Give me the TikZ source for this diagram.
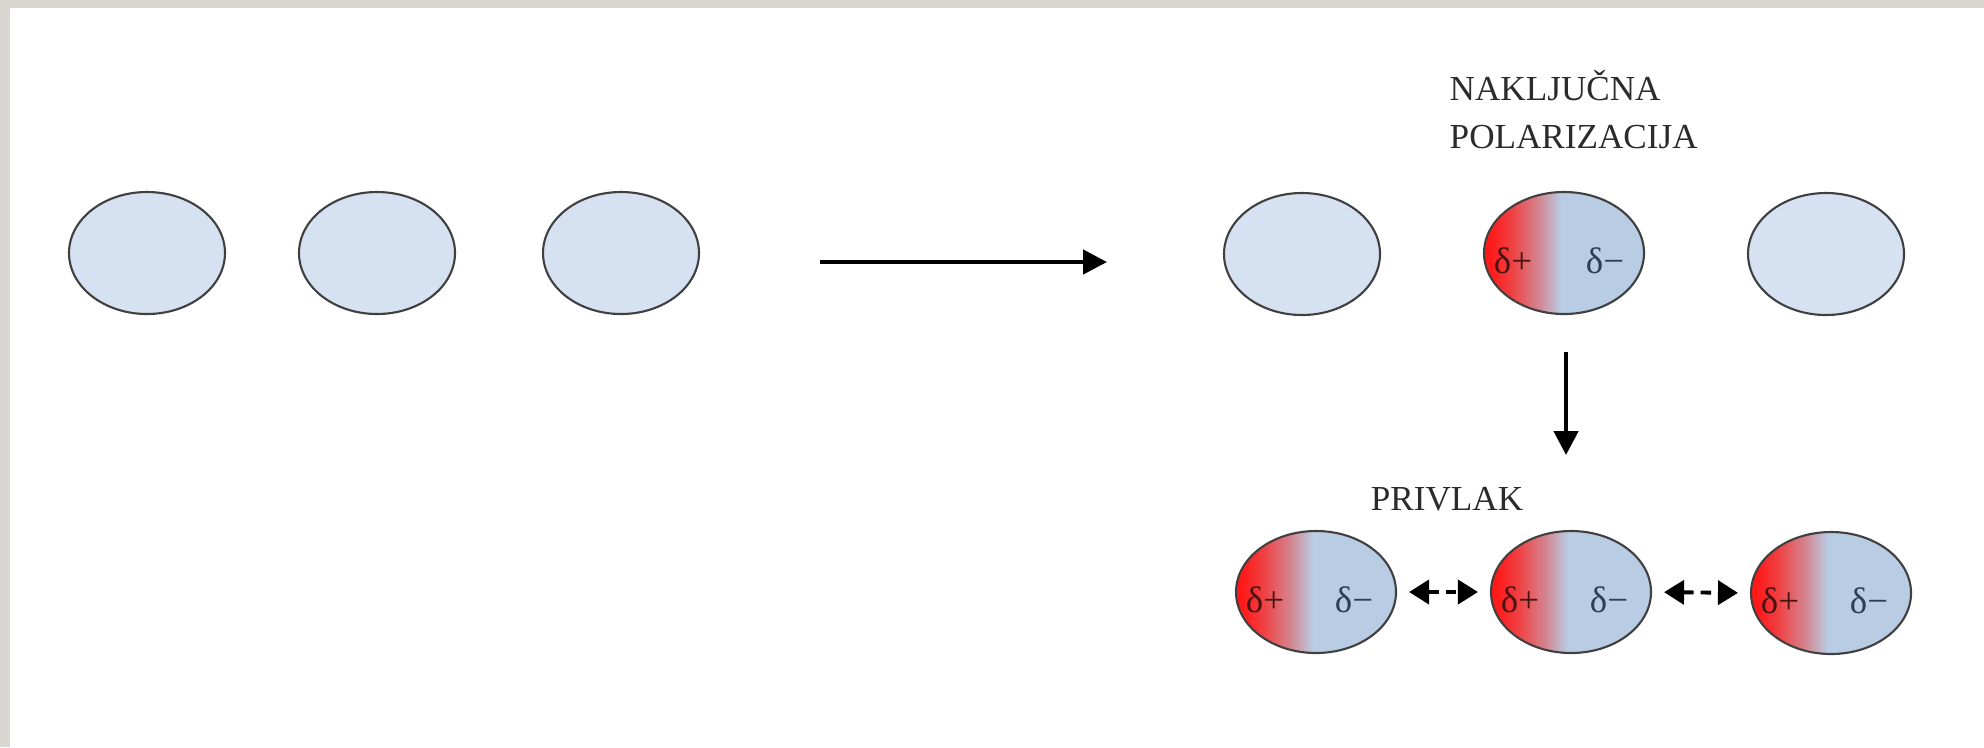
\documentclass[tikz,border=0pt]{standalone}
\usepackage{fontspec}
\setmainfont{Liberation Serif}
\usepackage{tikz}
\usetikzlibrary{shapes.geometric,arrows.meta}

\definecolor{framegrey}{HTML}{D9D6D1}
\definecolor{atomblue}{HTML}{D6E2F1}
\definecolor{polred}{HTML}{FF1A1A}
\definecolor{polwarm}{HTML}{EE4446}
\definecolor{polpink}{HTML}{D48590}
\definecolor{polblue}{HTML}{B8CCE4}
\definecolor{plusink}{HTML}{4A1414}
\definecolor{minusink}{HTML}{2E3E55}
\definecolor{labelink}{HTML}{2B2B2B}
\pgfdeclarehorizontalshading{polar}{100bp}{color(0bp)=(polred); color(27bp)=(polred); color(34bp)=(polwarm); color(42bp)=(polpink); color(49bp)=(polblue); color(100bp)=(polblue)}

\begin{document}
\begin{tikzpicture}[auto,
  atom/.style={ellipse,draw=black!75,line width=0.6pt,fill=atomblue,minimum width=1.56cm,minimum height=1.22cm,inner sep=0pt},
  polatom/.style={ellipse,draw=black!75,line width=0.6pt,shade,shading=polar,minimum width=1.6cm,minimum height=1.22cm,inner sep=0pt},
  plus/.style={text=plusink,font=\fontsize{10.5}{12}\selectfont,inner sep=0pt},
  minus/.style={text=minusink,font=\fontsize{10.5}{12}\selectfont,inner sep=0pt},
  caption/.style={text=labelink,font=\fontsize{10}{13.6}\selectfont,inner sep=0pt},
  bigarrow/.style={line width=1.3pt,-{Triangle[length=0.24cm,width=0.24cm]}},
  pullarrow/.style={line width=1.1pt,dash pattern=on 3pt off 2pt,{Triangle[length=0.2cm,width=0.24cm]}-{Triangle[length=0.2cm,width=0.24cm]}}]
\useasboundingbox (0,0) rectangle (19.84,-7.47);
\fill[white] (0,0) rectangle (19.84,-7.47);
\fill[framegrey] (0,0) rectangle (19.84,-0.08);
\fill[framegrey] (0,0) rectangle (0.10,-7.47);
% neutral atoms
\node[atom] (L1) at (1.47,-2.53) {};
\node[atom] (L2) at (3.77,-2.53) {};
\node[atom] (L3) at (6.21,-2.53) {};
\coordinate (go1) at (8.20,-2.62);
\coordinate (go2) at (11.07,-2.62);
\draw[bigarrow] (go1) -- (go2);
% random polarization
\node[atom] (E1) at (13.02,-2.54) {};
\node[polatom] (E2) at (15.64,-2.53) {};
\node[atom] (E3) at (18.26,-2.54) {};
\node[plus] (E2p) at ([xshift=-0.51cm,yshift=-0.08cm]E2.center) {δ+};
\node[minus] (E2m) at ([xshift=0.41cm,yshift=-0.08cm]E2.center) {δ−};
\node[caption,align=left,anchor=north west] (rand) at (14.49,-0.70) {NAKLJUČNA\\POLARIZACIJA};
\coordinate (down1) at (15.66,-3.52);
\coordinate (down2) at (15.66,-4.55);
\draw[bigarrow] (down1) -- (down2);
% attraction
\node[caption] (pull) at (14.47,-4.99) {PRIVLAK};
\node[polatom] (B1) at (13.16,-5.92) {};
\node[polatom] (B2) at (15.71,-5.92) {};
\node[polatom] (B3) at (18.31,-5.93) {};
\node[plus] (B1p) at ([xshift=-0.51cm,yshift=-0.08cm]B1.center) {δ+};
\node[minus] (B1m) at ([xshift=0.38cm,yshift=-0.08cm]B1.center) {δ−};
\node[plus] (B2p) at ([xshift=-0.51cm,yshift=-0.08cm]B2.center) {δ+};
\node[minus] (B2m) at ([xshift=0.38cm,yshift=-0.08cm]B2.center) {δ−};
\node[plus] (B3p) at ([xshift=-0.51cm,yshift=-0.08cm]B3.center) {δ+};
\node[minus] (B3m) at ([xshift=0.38cm,yshift=-0.08cm]B3.center) {δ−};
\draw[pullarrow,shorten <=0.12cm,shorten >=0.12cm] (B1.east) -- (B2.west);
\draw[pullarrow,shorten <=0.12cm,shorten >=0.12cm] (B2.east) -- (B3.west);
\end{tikzpicture}
\end{document}
